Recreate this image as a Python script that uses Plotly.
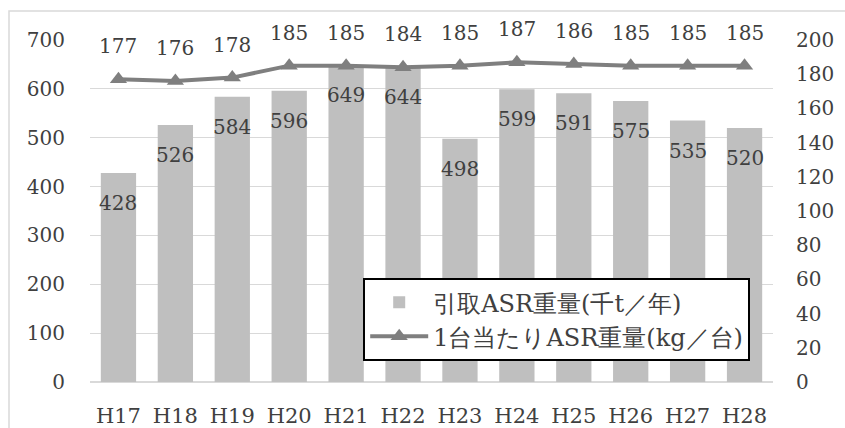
import plotly.graph_objects as go

# Fiscal years (Heisei era)
years = ["H17", "H18", "H19", "H20", "H21", "H22", "H23", "H24", "H25", "H26", "H27", "H28"]
# ASR collected (thousand t / year)
asr_collected = [428, 526, 584, 596, 649, 644, 498, 599, 591, 575, 535, 520]
# ASR weight per vehicle (kg / vehicle)
asr_per_vehicle = [177, 176, 178, 185, 185, 184, 185, 187, 186, 185, 185, 185]

left_ticks = [0, 100, 200, 300, 400, 500, 600, 700]
right_ticks = [0, 20, 40, 60, 80, 100, 120, 140, 160, 180, 200]

BAR_NAME = "引取ASR重量(千t／年)"
LINE_NAME = "1台当たりASR重量(kg／台)"

FONT = "DejaVu Serif"
TEXT_COLOR = "#404040"
GRID = "#D9D9D9"

fig = go.Figure()

fig.add_trace(go.Bar(
    x=years, y=asr_collected, name=BAR_NAME,
    marker=dict(color="#BFBFBF", line=dict(width=0)),
    yaxis="y",
))

fig.add_trace(go.Scatter(
    x=years, y=asr_per_vehicle, name=LINE_NAME,
    mode="lines+markers",
    line=dict(color="#7F7F7F", width=4),
    marker=dict(symbol="triangle-up", size=15, color="#7F7F7F"),
    yaxis="y2",
))

annotations = []
# value labels just inside the top of each bar
for yr, v in zip(years, asr_collected):
    annotations.append(dict(
        x=yr, y=v, xref="x", yref="y", text=str(v), showarrow=False,
        yshift=-30, font=dict(family=FONT, size=20, color=TEXT_COLOR),
    ))
# value labels above each line point
for yr, v in zip(years, asr_per_vehicle):
    annotations.append(dict(
        x=yr, y=v, xref="x", yref="y2", text=str(v), showarrow=False,
        yshift=33, font=dict(family=FONT, size=20, color=TEXT_COLOR),
    ))

fig.update_layout(
    width=845, height=428,
    margin=dict(l=90, r=72, t=40, b=46, autoexpand=False),
    paper_bgcolor="white", plot_bgcolor="white",
    font=dict(family=FONT, size=20, color=TEXT_COLOR),
    bargap=0.38,
    showlegend=True,
    legend=dict(
        x=0.4, y=0.304, xanchor="left", yanchor="top",
        bgcolor="white", bordercolor="black", borderwidth=2,
        font=dict(family=FONT, size=24, color=TEXT_COLOR),
        itemwidth=58, tracegroupgap=0,
    ),
    xaxis=dict(
        showgrid=False, showline=True, linecolor=GRID, linewidth=1,
        ticks="", tickfont=dict(size=21), ticklabelstandoff=15,
        range=[-0.5, len(years) - 0.5], automargin=False,
    ),
    yaxis=dict(
        range=[0, 700], tickvals=left_ticks, showgrid=True, gridcolor=GRID,
        gridwidth=1, zeroline=True, zerolinecolor=GRID, showline=False,
        ticks="", ticklabelstandoff=24, automargin=False,
    ),
    yaxis2=dict(
        range=[0, 200], tickvals=right_ticks, overlaying="y", side="right",
        showgrid=False, zeroline=False, showline=False,
        ticks="", ticklabelstandoff=22, automargin=False,
    ),
    annotations=annotations,
    shapes=[dict(
        type="rect", xref="paper", yref="paper",
        x0=(9 - 90) / 683, x1=(860 - 90) / 683,
        y0=(382 - 440) / 342, y1=(382 - 11) / 342,
        line=dict(color=GRID, width=1.5), fillcolor="rgba(0,0,0,0)", layer="below",
    )],
)

fig.write_html("out.html")
